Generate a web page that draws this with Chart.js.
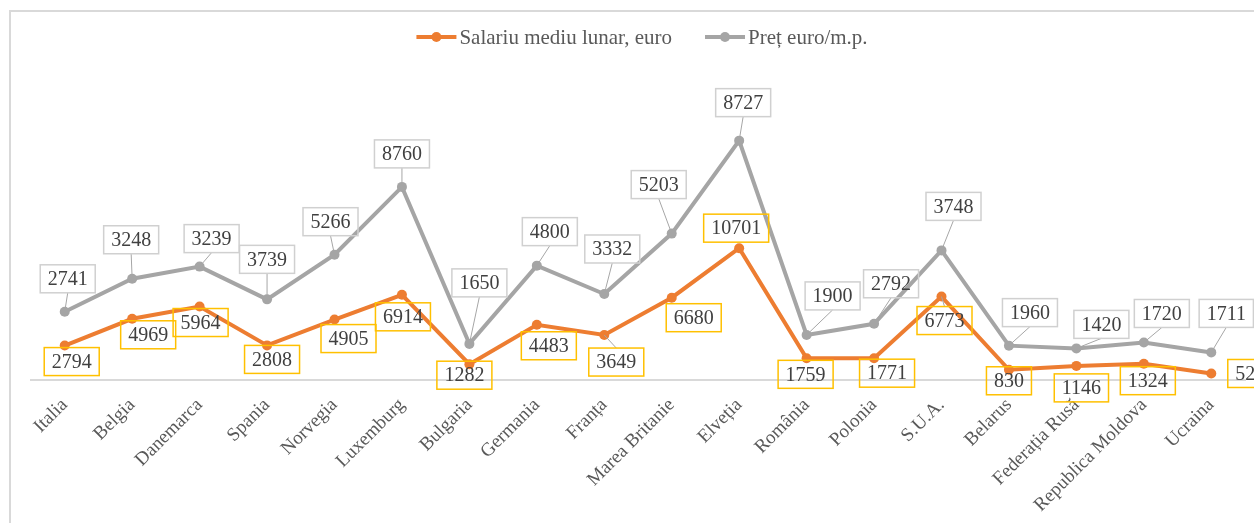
<!DOCTYPE html>
<html>
<head>
<meta charset="utf-8">
<script src="https://cdn.jsdelivr.net/npm/chart.js@4"></script>
<style>
  html, body { margin: 0; padding: 0; background: #fff; overflow: hidden; }
  canvas { display: block; }
</style>
</head>
<body>
<canvas id="chart" width="1254" height="523"></canvas>
<script>
// date
const categories = ['Italia', 'Belgia', 'Danemarca', 'Spania', 'Norvegia', 'Luxemburg', 'Bulgaria', 'Germania',
    'Franța', 'Marea Britanie', 'Elveția', 'România', 'Polonia', 'S.U.A.', 'Belarus', 'Federația Rusă',
    'Republica Moldova', 'Ucraina'];
const salariu = [2794, 4969, 5964, 2808, 4905, 6914, 1282, 4483, 3649, 6680, 10701, 1759, 1771, 6773, 830, 1146, 1324, 529];
const pret = [2741, 3248, 3239, 3739, 5266, 8760, 1650, 4800, 3332, 5203, 8727, 1900, 2792, 3748, 1960, 1420, 1720, 1711];
const seriesNames = ['Salariu mediu lunar, euro', 'Preț euro/m.p.'];

const ORANGE = '#ED7D31';
const GRAY = '#A5A5A5';
const FONT = '"Liberation Serif", "Times New Roman", serif';

// pozitia etichetelor fata de punct (dx, dy catre centrul casetei)
const labelOffsets = [
    [[7,16],[16,16],[1,16],[5,14],[14,19],[1,22],[-5,11],[12,21],[12,27],[22,20],[-3,-20],[-1,16],[13,15],[3,24],[0,11],[5,22],[4,17],[39,0]],
    [[3,-33],[-1,-39],[12,-28],[0,-40],[-4,-33],[0,-33],[10,-61],[13,-34],[8,-45],[-13,-49],[4,-38],[26,-39],[17,-40],[12,-44],[21,-33],[25,-24],[18,-29],[15,-39]]
];
const boxColors = ['#FFC000', '#D0D0D0'];

const decorPlugin = {
    id: 'decor',
    beforeDraw(chart) {
        const ctx = chart.ctx;
        ctx.save();
        ctx.strokeStyle = '#D9D9D9';
        ctx.lineWidth = 2;
        ctx.beginPath();
        ctx.moveTo(10, chart.height);
        ctx.lineTo(10, 11);
        ctx.lineTo(chart.width, 11);
        ctx.stroke();
        ctx.restore();
    },
    afterDraw(chart) {
        const ctx = chart.ctx;
        ctx.save();
        // legenda
        ctx.font = '21px ' + FONT;
        ctx.textBaseline = 'middle';
        const y = 37;
        const items = chart.data.datasets.map(ds => ({ text: ds.label, color: ds.borderColor }));
        const widths = items.map(it => 40 + 3 + ctx.measureText(it.text).width);
        const gap = 33;
        let x = 642 - (widths.reduce((a, b) => a + b, 0) + gap) / 2;
        items.forEach((it, i) => {
            ctx.strokeStyle = it.color;
            ctx.lineWidth = 4;
            ctx.beginPath();
            ctx.moveTo(x, y);
            ctx.lineTo(x + 40, y);
            ctx.stroke();
            ctx.fillStyle = it.color;
            ctx.beginPath();
            ctx.arc(x + 20, y, 5, 0, Math.PI * 2);
            ctx.fill();
            ctx.fillStyle = '#595959';
            ctx.textAlign = 'left';
            ctx.fillText(it.text, x + 43, y + 1);
            x += widths[i] + gap;
        });

        // etichete de date
        ctx.font = '20px ' + FONT;
        ctx.textAlign = 'center';
        chart.data.datasets.forEach((ds, di) => {
            const meta = chart.getDatasetMeta(di);
            meta.data.forEach((pt, i) => {
                const txt = String(ds.data[i]);
                const [dx, dy] = labelOffsets[di][i];
                const cx = pt.x + dx, cy = pt.y + dy;
                const w = ctx.measureText(txt).width + 15;
                const h = 28;
                const top = cy - h / 2, bottom = cy + h / 2;
                // linie de legatura
                ctx.strokeStyle = '#A6A6A6';
                ctx.lineWidth = 1;
                if (pt.y - bottom > 8) {
                    ctx.beginPath();
                    ctx.moveTo(pt.x, pt.y);
                    ctx.lineTo(cx, bottom);
                    ctx.stroke();
                } else if (top - pt.y > 8) {
                    ctx.beginPath();
                    ctx.moveTo(pt.x, pt.y);
                    ctx.lineTo(cx, top);
                    ctx.stroke();
                }
                ctx.strokeStyle = boxColors[di];
                ctx.lineWidth = 1.5;
                ctx.strokeRect(cx - w / 2, top, w, h);
                ctx.fillStyle = '#404040';
                ctx.fillText(txt, cx, cy + 1);
            });
        });
        ctx.restore();
    }
};

new Chart(document.getElementById('chart').getContext('2d'), {
    type: 'line',
    data: {
        labels: categories,
        datasets: [
            {
                label: seriesNames[0],
                data: salariu,
                borderColor: ORANGE,
                backgroundColor: ORANGE,
                borderWidth: 4,
                pointRadius: 5,
                pointBorderWidth: 0,
                pointBackgroundColor: ORANGE,
                tension: 0,
                fill: false
            },
            {
                label: seriesNames[1],
                data: pret,
                borderColor: GRAY,
                backgroundColor: GRAY,
                borderWidth: 4,
                pointRadius: 5,
                pointBorderWidth: 0,
                pointBackgroundColor: GRAY,
                tension: 0,
                fill: false
            }
        ]
    },
    options: {
        responsive: false,
        animation: false,
        layout: { padding: { left: 31, right: 9, top: 72, bottom: 0 } },
        plugins: {
            legend: { display: false },
            tooltip: { enabled: false }
        },
        scales: {
            x: {
                offset: true,
                grid: { display: false },
                border: { display: true, color: '#D9D9D9', width: 2 },
                ticks: {
                    color: '#595959',
                    font: { family: FONT, size: 19 },
                    minRotation: 45,
                    maxRotation: 45,
                    autoSkip: false,
                    padding: 6
                },
                afterFit: s => { s.height = 143; }
            },
            y: {
                display: false,
                stacked: true,
                min: 0,
                max: 25000
            }
        }
    },
    plugins: [decorPlugin]
});
</script>
</body>
</html>
